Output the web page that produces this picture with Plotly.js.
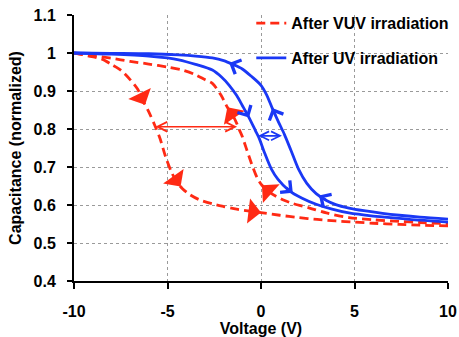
<!DOCTYPE html>
<html>
<head>
<meta charset="utf-8">
<script src="https://cdn.plot.ly/plotly-3.0.1.min.js"></script>
<style>html,body{margin:0;padding:0;background:#fff;}#chart{width:459px;height:337px;}</style>
</head>
<body>
<div id="chart"></div>
<script>
// ---- data ----
const redLeftX = [-10, -9.7, -9.2, -8.5, -8, -7.5, -7, -6.6, -6.3, -6, -5.7, -5.4, -5.1, -4.8, -4.5, -4.2, -3.8, -3.3, -2.6, -2, -1.3, -0.5, 0, 1, 2, 3, 4, 5, 6, 7.4, 8.5, 10];
const redLeftY = [1.000, 0.997, 0.992, 0.984, 0.970, 0.955, 0.930, 0.905, 0.873, 0.845, 0.812, 0.775, 0.727, 0.688, 0.660, 0.643, 0.627, 0.614, 0.603, 0.596, 0.589, 0.583, 0.580, 0.573, 0.567, 0.562, 0.558, 0.555, 0.552, 0.549, 0.547, 0.545];

const redRightX = [-10, -9, -8, -7, -6, -5, -4.2, -3.6, -3, -2.6, -2.15, -1.8, -1.5, -1.3, -1.15, -1.0, -0.8, -0.5, -0.2, 0.05, 0.4, 0.8, 1.2, 1.7, 2.6, 3.5, 4.7, 6, 7.4, 8.5, 10];
const redRightY = [1.000, 0.993, 0.986, 0.978, 0.971, 0.963, 0.955, 0.945, 0.930, 0.920, 0.890, 0.857, 0.835, 0.815, 0.797, 0.780, 0.751, 0.708, 0.671, 0.652, 0.636, 0.623, 0.613, 0.604, 0.592, 0.579, 0.567, 0.561, 0.557, 0.554, 0.551];

const blueUpX = [-10, -8, -6, -4.4, -3.5, -2.6, -2, -1.5, -1, -0.5, 0, 0.3, 0.6, 0.95, 1.25, 1.6, 2.0, 2.45, 2.95, 3.5, 4, 4.7, 5.5, 6.5, 7.4, 8.5, 10];
const blueUpY = [1.000, 0.999, 0.998, 0.995, 0.992, 0.987, 0.980, 0.970, 0.958, 0.938, 0.915, 0.890, 0.855, 0.817, 0.786, 0.744, 0.695, 0.657, 0.630, 0.612, 0.601, 0.592, 0.585, 0.578, 0.573, 0.568, 0.563];

const blueLowX = [-10, -8, -6, -5, -4.4, -3.5, -2.6, -2.1, -1.7, -1.3, -1.0, -0.64, -0.3, -0.1, 0.2, 0.55, 0.9, 1.5, 2.2, 2.95, 3.8, 4.7, 6, 7.4, 8.5, 10];
const blueLowY = [1.000, 0.997, 0.992, 0.987, 0.982, 0.970, 0.955, 0.936, 0.915, 0.888, 0.862, 0.830, 0.796, 0.776, 0.736, 0.695, 0.668, 0.638, 0.618, 0.602, 0.589, 0.579, 0.571, 0.565, 0.560, 0.555];

// sweep-direction arrows on the curves (curve name, voltage, direction +1 = towards +V)
const arrowCurve = ['redLeft', 'redLeft', 'redLeft', 'redRight', 'redRight', 'blueUp', 'blueUp', 'blueUp', 'blueLow', 'blueLow'];
const arrowX     = [-6.2, -4.3, 0.0, -1.8, 0.05, -1.7, 0.6, 3.1, -0.64, 1.7];
const arrowDir   = [1, 1, 1, -1, -1, -1, -1, -1, 1, 1];

// hysteresis-width double arrows
const redGapX = [-5.65, -1.2];
const redGapY = 0.806;
const blueGapX = [-0.15, 1.2];
const blueGapY = 0.782;

const xTickVals = [-10, -5, 0, 5, 10];
const xTickText = ['-10', '-5', '0', '5', '10'];
const yTickVals = [0.4, 0.5, 0.6, 0.7, 0.8, 0.9, 1.0, 1.1];
const yTickText = ['0.4', '0.5', '0.6', '0.7', '0.8', '0.9', '1', '1.1'];

const seriesNames = ['After VUV irradiation', 'After UV irradiation'];

// ---- styling ----
const RED = '#ff2a14';
const BLUE = '#1a38f5';
const W = 459, H = 337;
const M = {l: 74, r: 11, t: 15, b: 56, autoexpand: false};
const xRange = [-10, 10], yRange = [0.4, 1.1];
const pxX = (W - M.l - M.r) / (xRange[1] - xRange[0]);
const pxY = (H - M.t - M.b) / (yRange[1] - yRange[0]);
const FONT = 'Liberation Sans, Arial, sans-serif';

const curves = {
  redLeft: [redLeftX, redLeftY, RED],
  redRight: [redRightX, redRightY, RED],
  blueUp: [blueUpX, blueUpY, BLUE],
  blueLow: [blueLowX, blueLowY, BLUE]
};

function interp(xs, ys, x) {
  for (let i = 0; i < xs.length - 1; i++) {
    if (x >= xs[i] && x <= xs[i + 1]) {
      const t = (x - xs[i]) / (xs[i + 1] - xs[i]);
      return ys[i] + t * (ys[i + 1] - ys[i]);
    }
  }
  return ys[ys.length - 1];
}

const redDash = '9px,5px';
const LW = 2.8;
const traces = [
  {x: redLeftX, y: redLeftY, mode: 'lines', name: seriesNames[0], legendgroup: 'a',
   line: {color: RED, width: LW, dash: redDash, shape: 'spline', smoothing: 0.8}},
  {x: redRightX, y: redRightY, mode: 'lines', name: seriesNames[0], legendgroup: 'a', showlegend: false,
   line: {color: RED, width: LW, dash: redDash, shape: 'spline', smoothing: 0.8}},
  {x: blueUpX, y: blueUpY, mode: 'lines', name: seriesNames[1], legendgroup: 'b',
   line: {color: BLUE, width: LW, shape: 'spline', smoothing: 0.8}},
  {x: blueLowX, y: blueLowY, mode: 'lines', name: seriesNames[1], legendgroup: 'b', showlegend: false,
   line: {color: BLUE, width: LW, shape: 'spline', smoothing: 0.8}}
];

const annotations = [];
for (let i = 0; i < arrowX.length; i++) {
  const c = curves[arrowCurve[i]];
  const xs = c[0], ys = c[1], col = c[2];
  const x = arrowX[i], y = interp(xs, ys, x);
  let tx = x, ty = y;
  for (let k = 1; k < 1000; k++) {
    tx = x - arrowDir[i] * k * 0.005;
    ty = interp(xs, ys, tx);
    if (Math.hypot((tx - x) * pxX, (ty - y) * pxY) >= 10) break;
  }
  const isRed = col === RED;
  annotations.push({
    x: x, y: y, ax: tx, ay: ty, xref: 'x', yref: 'y', axref: 'x', ayref: 'y',
    text: '', showarrow: true, standoff: 0,
    arrowhead: isRed ? 1 : 4, arrowsize: isRed ? 1.55 : 1.35, arrowwidth: isRed ? 2.7 : 2.2,
    arrowcolor: col
  });
}
annotations.push({
  x: redGapX[0], y: redGapY, ax: redGapX[1], ay: redGapY, xref: 'x', yref: 'y', axref: 'x', ayref: 'y',
  text: '', showarrow: true, arrowside: 'end+start', arrowhead: 5, startarrowhead: 5,
  arrowsize: 1.2, startarrowsize: 1.2, arrowwidth: 1.6, arrowcolor: RED, standoff: 0, startstandoff: 0
});
annotations.push({
  x: blueGapX[0], y: blueGapY, ax: blueGapX[1], ay: blueGapY, xref: 'x', yref: 'y', axref: 'x', ayref: 'y',
  text: '', showarrow: true, arrowside: 'end+start', arrowhead: 5, startarrowhead: 5,
  arrowsize: 1.1, startarrowsize: 1.1, arrowwidth: 1.6, arrowcolor: BLUE, standoff: 0, startstandoff: 0
});

const tickFont = {family: FONT, size: 16, color: '#000', weight: 'bold'};
const layout = {
  width: W, height: H,
  margin: M,
  paper_bgcolor: '#fff', plot_bgcolor: '#fff',
  showlegend: true,
  legend: {
    x: 0.474, xanchor: 'left', y: 1.033, yanchor: 'top',
    bgcolor: 'rgba(0,0,0,0)', borderwidth: 0,
    font: {family: FONT, size: 16, color: '#000', weight: 'bold'},
    tracegroupgap: 11
  },
  xaxis: {
    range: xRange, tickmode: 'array', tickvals: xTickVals, ticktext: xTickText,
    showline: true, linecolor: '#000', linewidth: 2, automargin: false,
    ticks: 'outside', ticklen: 6, tickwidth: 2, tickcolor: '#000',
    ticklabelstandoff: 9,
    showgrid: true, gridcolor: '#9a9a9a', gridwidth: 1, griddash: 'dot',
    zeroline: false, tickfont: tickFont,
    title: {text: 'Voltage (V)', font: {family: FONT, size: 16, color: '#000', weight: 'bold'}, standoff: 6}
  },
  yaxis: {
    range: yRange, tickmode: 'array', tickvals: yTickVals, ticktext: yTickText,
    showline: true, linecolor: '#000', linewidth: 2, automargin: false,
    ticks: 'outside', ticklen: 5, tickwidth: 2, tickcolor: '#000',
    ticklabelstandoff: 8,
    showgrid: true, gridcolor: '#9a9a9a', gridwidth: 1, griddash: 'dot',
    zeroline: false, tickfont: tickFont,
    title: {text: 'Capacitance (normalized)', font: {family: FONT, size: 16, color: '#000', weight: 'bold'}, standoff: 8}
  },
  shapes: [{
    type: 'rect', xref: 'x', yref: 'y', layer: 'below',
    x0: 0.06, x1: 10.5, y0: 0.952, y1: 1.15,
    fillcolor: '#fff', line: {width: 0}
  }],
  annotations: annotations
};

Plotly.newPlot('chart', traces, layout, {staticPlot: true, displayModeBar: false});
</script>
</body>
</html>
